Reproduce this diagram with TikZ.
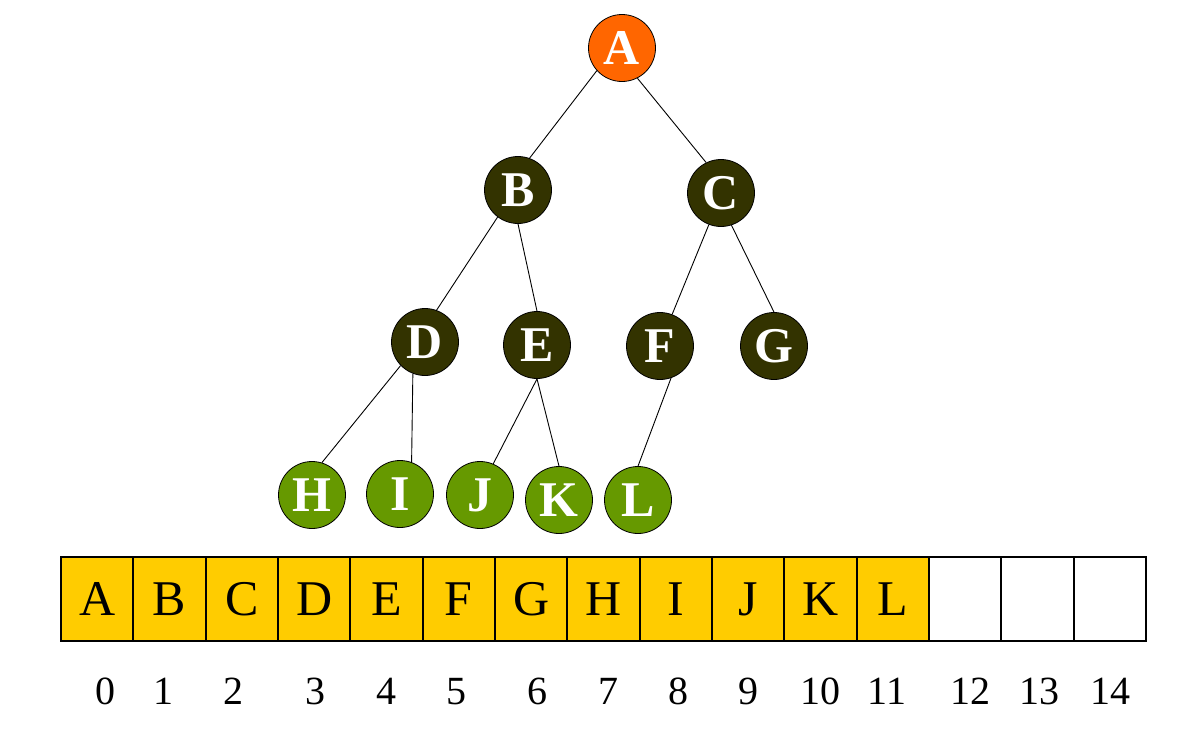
\documentclass[tikz,border=0pt]{standalone}
\usepackage{fontspec}
\setmainfont{Liberation Serif}
\usepackage{tikz}
\usetikzlibrary{positioning}
\definecolor{rootorange}{HTML}{FF6600}
\definecolor{innerdark}{HTML}{333300}
\definecolor{leafgreen}{HTML}{669900}
\definecolor{cellyellow}{HTML}{FFCC00}
\tikzstyle{treenode} = [circle, draw=black, line width=0.8pt, minimum size=67pt, inner sep=0pt, text=white, font=\bfseries\fontsize{50}{58}\selectfont]
\tikzstyle{root} = [treenode, fill=rootorange]
\tikzstyle{inner} = [treenode, fill=innerdark]
\tikzstyle{leaf} = [treenode, fill=leafgreen]
\tikzstyle{edge} = [line width=0.9pt]
\tikzstyle{cell} = [rectangle, draw=black, line width=2pt, minimum width=72.33pt, minimum height=84pt, inner sep=0pt, font=\fontsize{50}{60}\selectfont]
\tikzstyle{used} = [cell, fill=cellyellow]
\tikzstyle{free} = [cell, fill=white]
\tikzstyle{index} = [inner sep=0pt, anchor=base, font=\fontsize{40}{46}\selectfont]

\begin{document}
\begin{tikzpicture}[x=1pt, y=-1pt]
\useasboundingbox (0,0) rectangle (1177,729);

% tree
\node (A) [root] at (622,48) {A};
\node (B) [inner] at (518,190) {B};
\node (C) [inner] at (721,193) {C};
\node (D) [inner] at (425,342) {D};
\node (E) [inner] at (537,345) {E};
\node (F) [inner] at (660,346) {F};
\node (G) [inner] at (774,346) {G};
\node (H) [leaf] at (312,495) {H};
\node (I) [leaf] at (400,494) {I};
\node (J) [leaf] at (480,495) {J};
\node (K) [leaf] at (559,500) {K};
\node (L) [leaf] at (638,500) {L};

\draw [edge] (A.222) -- (B.70);
\draw [edge] (A.297) -- (C.116);
\draw [edge] (B.233) -- (D.70);
\draw [edge] (B.270) -- (E.90);
\draw [edge] (C.249) -- (F.69);
\draw [edge] (C.288) -- (G.90);
\draw [edge] (D.224) -- (H.73);
\draw [edge] (D.249) -- (I.70);
\draw [edge] (E.270) -- (J.67);
\draw [edge] (E.270) -- (K.90);
\draw [edge] (F.289) -- (L.90);

% array
\node (c0) [used] at (97.2,599) {A};
\node (c1) [used] at (169.5,599) {B};
\node (c2) [used] at (241.8,599) {C};
\node (c3) [used] at (314.2,599) {D};
\node (c4) [used] at (386.5,599) {E};
\node (c5) [used] at (458.8,599) {F};
\node (c6) [used] at (531.1,599) {G};
\node (c7) [used] at (603.5,599) {H};
\node (c8) [used] at (675.8,599) {I};
\node (c9) [used] at (748.1,599) {J};
\node (c10) [used] at (820.5,599) {K};
\node (c11) [used] at (892.8,599) {L};
\node (c12) [free] at (965.1,599) {};
\node (c13) [free] at (1037.4,599) {};
\node (c14) [free] at (1109.8,599) {};

% indices
\node (i0) [index] at (105,704) {0};
\node (i1) [index] at (163,704) {1};
\node (i2) [index] at (233,704) {2};
\node (i3) [index] at (315,704) {3};
\node (i4) [index] at (386,704) {4};
\node (i5) [index] at (456,704) {5};
\node (i6) [index] at (537,704) {6};
\node (i7) [index] at (608,704) {7};
\node (i8) [index] at (678,704) {8};
\node (i9) [index] at (748,704) {9};
\node (i10) [index] at (820,704) {10};
\node (i11) [index] at (887,704) {11};
\node (i12) [index] at (970,704) {12};
\node (i13) [index] at (1039,704) {13};
\node (i14) [index] at (1110,704) {14};

\end{tikzpicture}
\end{document}
